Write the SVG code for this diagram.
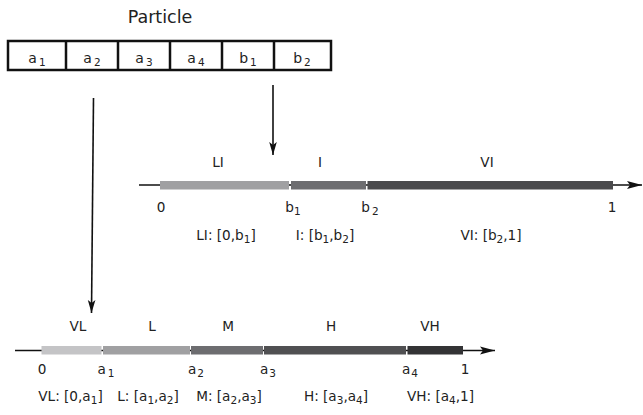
<svg xmlns="http://www.w3.org/2000/svg" width="643" height="415" viewBox="0 0 643 415">
<style>
text{font-family:"DejaVu Sans",Verdana,sans-serif;fill:#222;text-anchor:middle}
.t{font-size:13.6px}
.b{font-size:14px}
.s{font-size:10.5px}
.ln{stroke:#111;stroke-width:1.6;fill:none}
.cell{fill:#fff;stroke:#111;stroke-width:2.5}
</style>
<defs>
<marker id="ah" markerWidth="14" markerHeight="10" refX="13" refY="5" orient="auto" markerUnits="userSpaceOnUse">
<path d="M0,1.2 L13,5 L0,8.8 L3,5 Z" fill="#111"/>
</marker>
<marker id="ax" markerWidth="16" markerHeight="10" refX="15" refY="5" orient="auto" markerUnits="userSpaceOnUse">
<path d="M0,1 L15,5 L0,9 L3,5 Z" fill="#111"/>
</marker>
</defs>

<g id="particle">
<text x="160" y="23" style="font-size:17.5px">Particle</text>
<rect class="cell" x="8" y="41" width="323" height="29"/>
<path class="ln" d="M66,41V70M118,41V70M170,41V70M222,41V70M274,41V70" style="stroke-width:2.5"/>
<text class="b" x="37" y="63">a<tspan class="s" dx="2" dy="3">1</tspan></text>
<text class="b" x="92" y="63">a<tspan class="s" dx="2" dy="3">2</tspan></text>
<text class="b" x="144" y="63">a<tspan class="s" dx="2" dy="3">3</tspan></text>
<text class="b" x="196" y="63">a<tspan class="s" dx="2" dy="3">4</tspan></text>
<text class="b" x="248" y="63">b<tspan class="s" dx="2" dy="3">1</tspan></text>
<text class="b" x="302" y="63">b<tspan class="s" dx="2" dy="3">2</tspan></text>
</g>

<g id="connectors">
<line class="ln" x1="93.5" y1="98" x2="91.5" y2="313" marker-end="url(#ah)"/>
<line class="ln" x1="273" y1="85" x2="273" y2="155" marker-end="url(#ah)"/>
</g>

<g id="axis-b">
<line class="ln" x1="139" y1="185" x2="642" y2="185" marker-end="url(#ax)"/>
<rect x="160" y="181" width="129" height="8.5" fill="#a0a0a2"/>
<rect x="291" y="181" width="75" height="8.5" fill="#6d6d70"/>
<rect x="367.5" y="181" width="245.5" height="8.5" fill="#4a4a4c"/>
<text class="t" x="218" y="167">LI</text>
<text class="t" x="320" y="167">I</text>
<text class="t" x="487" y="167">VI</text>
<text class="t" x="161" y="212">0</text>
<text class="t" x="293" y="212">b<tspan class="s" dy="3">1</tspan></text>
<text class="t" x="370" y="212">b<tspan class="s" dx="2" dy="3">2</tspan></text>
<text class="t" x="612" y="212">1</text>
<text class="t" x="226" y="240">LI: [0,b<tspan class="s" dy="3">1</tspan><tspan dy="-3">]</tspan></text>
<text class="t" x="325" y="240">I: [b<tspan class="s" dy="3">1</tspan><tspan dy="-3">,b</tspan><tspan class="s" dy="3">2</tspan><tspan dy="-3">]</tspan></text>
<text class="t" x="491" y="240">VI: [b<tspan class="s" dy="3">2</tspan><tspan dy="-3">,1]</tspan></text>
</g>

<g id="axis-a">
<line class="ln" x1="15" y1="350.5" x2="495" y2="350.5" marker-end="url(#ax)"/>
<rect x="41.5" y="346" width="60" height="8.5" fill="#c4c4c6"/>
<rect x="103" y="346" width="87" height="8.5" fill="#a0a0a2"/>
<rect x="191" y="346" width="72" height="8.5" fill="#6d6d70"/>
<rect x="264" y="346" width="142" height="8.5" fill="#505052"/>
<rect x="407.5" y="346" width="55.5" height="8.5" fill="#333335"/>
<text class="t" x="78" y="331">VL</text>
<text class="t" x="152" y="331">L</text>
<text class="t" x="228" y="331">M</text>
<text class="t" x="331" y="331">H</text>
<text class="t" x="430" y="331">VH</text>
<text class="t" x="42" y="374">0</text>
<text class="t" x="106" y="374">a<tspan class="s" dx="2" dy="3">1</tspan></text>
<text class="t" x="196" y="374">a<tspan class="s" dx="1" dy="3">2</tspan></text>
<text class="t" x="268" y="374">a<tspan class="s" dx="1" dy="3">3</tspan></text>
<text class="t" x="410" y="374">a<tspan class="s" dx="1" dy="3">4</tspan></text>
<text class="t" x="465" y="374">1</text>
<text class="t" x="70.5" y="401">VL: [0,a<tspan class="s" dy="3">1</tspan><tspan dy="-3">]</tspan></text>
<text class="t" x="148" y="401">L: [a<tspan class="s" dy="3">1</tspan><tspan dy="-3">,a</tspan><tspan class="s" dy="3">2</tspan><tspan dy="-3">]</tspan></text>
<text class="t" x="229" y="401">M: [a<tspan class="s" dy="3">2</tspan><tspan dy="-3">,a</tspan><tspan class="s" dy="3">3</tspan><tspan dy="-3">]</tspan></text>
<text class="t" x="336" y="401">H: [a<tspan class="s" dy="3">3</tspan><tspan dy="-3">,a</tspan><tspan class="s" dy="3">4</tspan><tspan dy="-3">]</tspan></text>
<text class="t" x="440.5" y="401">VH: [a<tspan class="s" dy="3">4</tspan><tspan dy="-3">,1]</tspan></text>
</g>
</svg>
